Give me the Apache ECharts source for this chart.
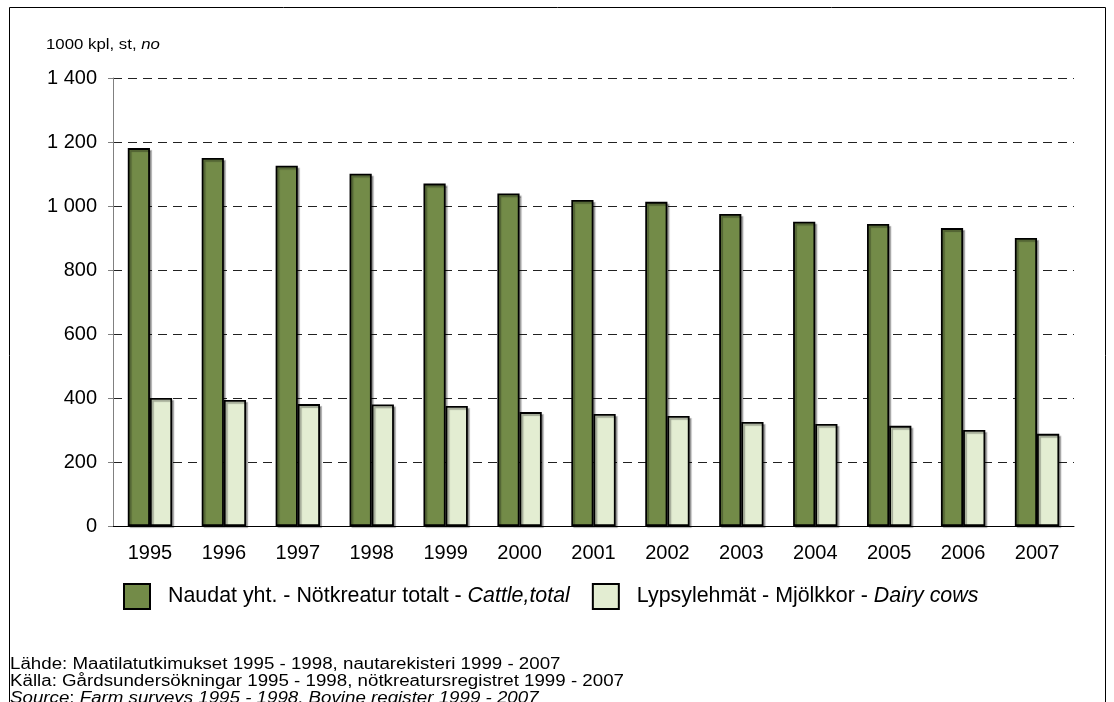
<!DOCTYPE html>
<html>
<head>
<meta charset="utf-8">
<script src="https://cdn.jsdelivr.net/npm/echarts@6/dist/echarts.min.js"></script>
<style>
html, body { margin: 0; padding: 0; background: #fff; }
#main { width: 1114px; height: 702px; }
</style>
</head>
<body>
<div id="main"></div>
<script>
var years = ['1995', '1996', '1997', '1998', '1999', '2000', '2001', '2002', '2003', '2004', '2005', '2006', '2007'];
var cattleTotal = [1181, 1150, 1126, 1101, 1070, 1039, 1019, 1013, 975, 951, 944, 931, 900];
var dairyCows = [400, 394, 381, 380, 375, 356, 350, 344, 325, 319, 313, 300, 288];
var yTicks = { min: 0, max: 1400, interval: 200 };
var sourceLines = [
	'Lähde: Maatilatutkimukset 1995 - 1998, nautarekisteri 1999 - 2007',
	'Källa: Gårdsundersökningar 1995 - 1998, nötkreatursregistret 1999 - 2007',
	'{i|Source}: {i|Farm surveys 1995 - 1998, Bovine register 1999 - 2007}'
];

var font = 'Liberation Sans, Arial, sans-serif';

// tuhaterotin välilyönnillä: 1 400
function fmtNum(v) {
	return String(v).replace(/\B(?=(\d{3})+(?!\d))/g, ' ');
}

var barStyle = function (color) {
	return {
		color: color,
		borderColor: '#000',
		borderWidth: 1.8,
		shadowColor: 'rgba(0,0,0,0.3)',
		shadowOffsetX: 2,
		shadowOffsetY: 2,
		shadowBlur: 1
	};
};

var option = {
	animation: false,
	backgroundColor: '#fff',
	textStyle: { fontFamily: font, color: '#000' },
	grid: { left: 113, right: 40, top: 78, bottom: 176 },
	legend: {
		left: 118,
		top: 578,
		icon: 'rect',
		itemWidth: 26,
		itemHeight: 25,
		itemGap: 22,
		textStyle: {
			fontFamily: font,
			fontSize: 21.4,
			color: '#000',
			padding: [0, 0, 0, 13],
			rich: {
				i: { fontFamily: font, fontSize: 21.4, fontStyle: 'italic', color: '#000' }
			}
		},
		data: ['cattle', 'dairy'],
		formatter: function (name) {
			if (name === 'cattle') return 'Naudat yht. - Nötkreatur totalt - {i|Cattle,total}';
			return 'Lypsylehmät - Mjölkkor - {i|Dairy cows}';
		}
	},
	xAxis: {
		type: 'category',
		data: years,
		axisLine: { lineStyle: { color: '#000', width: 1 } },
		axisTick: { inside: true, length: 5, lineStyle: { color: '#000' } },
		axisLabel: { fontFamily: font, fontSize: 20, color: '#000', margin: 17 }
	},
	yAxis: {
		type: 'value',
		min: yTicks.min,
		max: yTicks.max,
		interval: yTicks.interval,
		axisLine: { show: true, lineStyle: { color: '#808080' } },
		axisTick: { show: true, length: 5, lineStyle: { color: '#808080' } },
		axisLabel: { fontFamily: font, fontSize: 20, color: '#000', margin: 16, formatter: fmtNum },
		splitLine: { lineStyle: { color: '#222', type: [9, 6], width: 1 } }
	},
	series: [{
		name: 'cattle',
		type: 'bar',
		data: cattleTotal,
		barGap: '0%',
		barCategoryGap: '40%',
		itemStyle: barStyle('#738b48')
	}, {
		name: 'dairy',
		type: 'bar',
		data: dairyCows,
		itemStyle: barStyle('#e3edd2')
	}],
	graphic: [{
		type: 'rect',
		shape: { x: 9.5, y: 7.5, width: 1096, height: 720 },
		style: { fill: 'none', stroke: '#000', lineWidth: 1 },
		silent: true
	}, {
		type: 'text',
		left: 46,
		top: 38,
		scaleX: 1.2,
		style: {
			text: '1000 kpl, st, {i|no}',
			font: '14px ' + font,
			fill: '#000',
			rich: { i: { fontStyle: 'italic', fontSize: 14, fontFamily: font } }
		}
	}, {
		type: 'text',
		left: 10,
		top: 656,
		scaleX: 1.17,
		style: {
			text: sourceLines.join('\n'),
			font: '16px ' + font,
			lineHeight: 17,
			fill: '#000',
			rich: { i: { fontStyle: 'italic', fontSize: 16, fontFamily: font, lineHeight: 17 } }
		}
	}]
};

var chart = echarts.init(document.getElementById('main'));
chart.setOption(option);
</script>
</body>
</html>
